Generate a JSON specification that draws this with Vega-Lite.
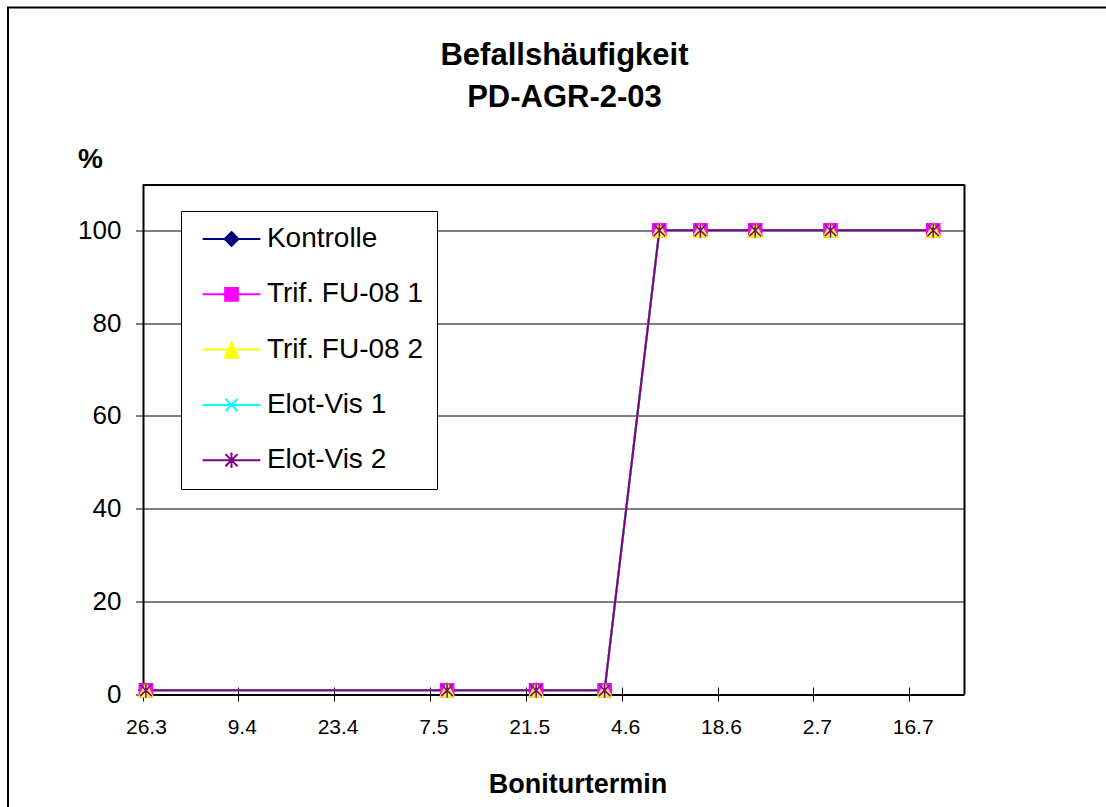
{
  "$schema": "https://vega.github.io/schema/vega-lite/v6.json",
  "autosize": {"type": "none"},
  "padding": {"left": 8, "top": 7.5, "right": -1, "bottom": -1},
  "width": 1099,
  "height": 800.5,
  "background": "#ffffff",
  "config": {
    "font": "Liberation Sans",
    "view": {"stroke": "#000000", "strokeWidth": 2},
    "axis": {"labelColor": "#000000", "titleColor": "#000000", "labelFont": "Liberation Sans", "titleFont": "Liberation Sans"}
  },
  "title": {
    "text": ["Befallshäufigkeit", "PD-AGR-2-03"],
    "fontSize": 31,
    "fontWeight": "bold",
    "font": "Liberation Sans",
    "color": "#000000",
    "anchor": "start",
    "frame": "group",
    "align": "center",
    "dx": 556.5,
    "dy": 106,
    "lineHeight": 42,
    "offset": 0
  },
  "data": {
    "values": [
      {"serie": "Kontrolle", "termin": "2003-03-26T12:00:00", "wert": 0.8},
      {"serie": "Kontrolle", "termin": "2003-05-09T12:00:00", "wert": 0.8},
      {"serie": "Kontrolle", "termin": "2003-05-22T12:00:00", "wert": 0.8},
      {"serie": "Kontrolle", "termin": "2003-06-01T12:00:00", "wert": 0.8},
      {"serie": "Kontrolle", "termin": "2003-06-09T12:00:00", "wert": 100},
      {"serie": "Kontrolle", "termin": "2003-06-15T12:00:00", "wert": 100},
      {"serie": "Kontrolle", "termin": "2003-06-23T12:00:00", "wert": 100},
      {"serie": "Kontrolle", "termin": "2003-07-04T12:00:00", "wert": 100},
      {"serie": "Kontrolle", "termin": "2003-07-19T12:00:00", "wert": 100},
      {"serie": "Trif. FU-08 1", "termin": "2003-03-26T12:00:00", "wert": 0.8},
      {"serie": "Trif. FU-08 1", "termin": "2003-05-09T12:00:00", "wert": 0.8},
      {"serie": "Trif. FU-08 1", "termin": "2003-05-22T12:00:00", "wert": 0.8},
      {"serie": "Trif. FU-08 1", "termin": "2003-06-01T12:00:00", "wert": 0.8},
      {"serie": "Trif. FU-08 1", "termin": "2003-06-09T12:00:00", "wert": 100},
      {"serie": "Trif. FU-08 1", "termin": "2003-06-15T12:00:00", "wert": 100},
      {"serie": "Trif. FU-08 1", "termin": "2003-06-23T12:00:00", "wert": 100},
      {"serie": "Trif. FU-08 1", "termin": "2003-07-04T12:00:00", "wert": 100},
      {"serie": "Trif. FU-08 1", "termin": "2003-07-19T12:00:00", "wert": 100},
      {"serie": "Trif. FU-08 2", "termin": "2003-03-26T12:00:00", "wert": 0.8},
      {"serie": "Trif. FU-08 2", "termin": "2003-05-09T12:00:00", "wert": 0.8},
      {"serie": "Trif. FU-08 2", "termin": "2003-05-22T12:00:00", "wert": 0.8},
      {"serie": "Trif. FU-08 2", "termin": "2003-06-01T12:00:00", "wert": 0.8},
      {"serie": "Trif. FU-08 2", "termin": "2003-06-09T12:00:00", "wert": 100},
      {"serie": "Trif. FU-08 2", "termin": "2003-06-15T12:00:00", "wert": 100},
      {"serie": "Trif. FU-08 2", "termin": "2003-06-23T12:00:00", "wert": 100},
      {"serie": "Trif. FU-08 2", "termin": "2003-07-04T12:00:00", "wert": 100},
      {"serie": "Trif. FU-08 2", "termin": "2003-07-19T12:00:00", "wert": 100},
      {"serie": "Elot-Vis 1", "termin": "2003-03-26T12:00:00", "wert": 0.8},
      {"serie": "Elot-Vis 1", "termin": "2003-05-09T12:00:00", "wert": 0.8},
      {"serie": "Elot-Vis 1", "termin": "2003-05-22T12:00:00", "wert": 0.8},
      {"serie": "Elot-Vis 1", "termin": "2003-06-01T12:00:00", "wert": 0.8},
      {"serie": "Elot-Vis 1", "termin": "2003-06-09T12:00:00", "wert": 100},
      {"serie": "Elot-Vis 1", "termin": "2003-06-15T12:00:00", "wert": 100},
      {"serie": "Elot-Vis 1", "termin": "2003-06-23T12:00:00", "wert": 100},
      {"serie": "Elot-Vis 1", "termin": "2003-07-04T12:00:00", "wert": 100},
      {"serie": "Elot-Vis 1", "termin": "2003-07-19T12:00:00", "wert": 100},
      {"serie": "Elot-Vis 2", "termin": "2003-03-26T12:00:00", "wert": 0.8},
      {"serie": "Elot-Vis 2", "termin": "2003-05-09T12:00:00", "wert": 0.8},
      {"serie": "Elot-Vis 2", "termin": "2003-05-22T12:00:00", "wert": 0.8},
      {"serie": "Elot-Vis 2", "termin": "2003-06-01T12:00:00", "wert": 0.8},
      {"serie": "Elot-Vis 2", "termin": "2003-06-09T12:00:00", "wert": 100},
      {"serie": "Elot-Vis 2", "termin": "2003-06-15T12:00:00", "wert": 100},
      {"serie": "Elot-Vis 2", "termin": "2003-06-23T12:00:00", "wert": 100},
      {"serie": "Elot-Vis 2", "termin": "2003-07-04T12:00:00", "wert": 100},
      {"serie": "Elot-Vis 2", "termin": "2003-07-19T12:00:00", "wert": 100}
    ]
  },
  "encoding": {
    "x": {
      "field": "termin",
      "type": "temporal",
      "scale": {
        "domain": [{"year": 2003, "month": 3, "date": 26}, {"year": 2003, "month": 7, "date": 24}],
        "range": [134.5, 956],
        "nice": false
      },
      "axis": {
        "orient": "top",
        "values": [
          {"year": 2003, "month": 3, "date": 26},
          {"year": 2003, "month": 4, "date": 9},
          {"year": 2003, "month": 4, "date": 23},
          {"year": 2003, "month": 5, "date": 7},
          {"year": 2003, "month": 5, "date": 21},
          {"year": 2003, "month": 6, "date": 4},
          {"year": 2003, "month": 6, "date": 18},
          {"year": 2003, "month": 7, "date": 2},
          {"year": 2003, "month": 7, "date": 16},
          {"year": 2003, "month": 7, "date": 24}
        ],
        "format": "%-d.%-m",
        "labelExpr": "datum.value > datetime(2003, 6, 20) ? '' : datum.label",
        "offset": -679.5,
        "tickSize": -14,
        "tickColor": "#000000",
        "tickOpacity": {"condition": {"test": "datum.value > datetime(2003, 6, 20)", "value": 0}, "value": 1},
        "labelFontSize": 21,
        "labelPadding": -32.3,
        "labelBaseline": "alphabetic",
        "labelOffset": 3.4,
        "labelFlush": false,
        "labelOverlap": false,
        "labelAngle": 0,
        "domain": false,
        "grid": true,
        "gridColor": "#000000",
        "gridWidth": 2,
        "gridOpacity": {"condition": {"test": "datum.value < datetime(2003, 3, 1) || datum.value > datetime(2003, 6, 20)", "value": 1}, "value": 0},
        "title": "Boniturtermin",
        "titleFontSize": 27,
        "titleFontWeight": "bold",
        "titleX": 569.5,
        "titleY": 105.7,
        "titleAlign": "center",
        "titleBaseline": "alphabetic"
      }
    },
    "y": {
      "field": "wert",
      "type": "quantitative",
      "scale": {"domain": [0, 110], "nice": false, "range": [686.5, 176.5]},
      "axis": {
        "values": [0, 20, 40, 60, 80, 100, 110],
        "labelExpr": "datum.value > 105 ? '' : datum.label",
        "offset": -134.5,
        "grid": true,
        "gridColor": "#000000",
        "gridWidth": {"condition": {"test": "datum.value == 0 || datum.value > 105", "value": 2}, "value": 1},
        "tickSize": 7,
        "tickColor": "#000000",
        "tickOpacity": {"condition": {"test": "datum.value > 105", "value": 0}, "value": 1},
        "labelFontSize": 26,
        "labelPadding": 14.5,
        "domain": false,
        "title": "%",
        "titleAngle": 0,
        "titleX": -52.5,
        "titleY": 151.5,
        "titleAlign": "center",
        "titleBaseline": "middle",
        "titleFontSize": 28,
        "titleFontWeight": "bold"
      }
    }
  },
  "layer": [
    {
      "mark": {"type": "line", "strokeWidth": 2},
      "encoding": {
        "color": {
          "field": "serie",
          "type": "nominal",
          "scale": {
            "domain": ["Kontrolle", "Trif. FU-08 1", "Trif. FU-08 2", "Elot-Vis 1", "Elot-Vis 2"],
            "range": ["#000080", "#FF00FF", "#FFFF00", "#00FFFF", "#800080"]
          },
          "legend": null
        }
      }
    },
    {
      "mark": {"type": "point", "filled": true, "opacity": 1, "size": 240, "strokeWidth": 1.5},
      "encoding": {
        "fill": {
          "field": "serie",
          "type": "nominal",
          "scale": {
            "domain": ["Kontrolle", "Trif. FU-08 1", "Trif. FU-08 2", "Elot-Vis 1", "Elot-Vis 2"],
            "range": ["#000080", "#FF00FF", "#FFFF00", "#00FFFF", "#800080"]
          },
          "legend": null
        },
        "stroke": {
          "field": "serie",
          "type": "nominal",
          "scale": {
            "domain": ["Kontrolle", "Trif. FU-08 1", "Trif. FU-08 2", "Elot-Vis 1", "Elot-Vis 2"],
            "range": ["#000080", "#FF00FF", "#FFFF00", "#00FFFF", "#800080"]
          },
          "legend": null
        },
        "shape": {
          "field": "serie",
          "type": "nominal",
          "scale": {
            "domain": ["Kontrolle", "Trif. FU-08 1", "Trif. FU-08 2", "Elot-Vis 1", "Elot-Vis 2"],
            "range": [
              "M0,-0.9L0.9,0L0,0.9L-0.9,0Z",
              "M-0.85,-0.85H0.85V0.85H-0.85Z",
              "M0,-0.85L0.9,0.85H-0.9Z",
              "M-0.75,-0.75L0.75,0.75M-0.75,0.75L0.75,-0.75",
              "M-0.75,-0.75L0.75,0.75M-0.75,0.75L0.75,-0.75M0,-0.9V0.9"
            ]
          },
          "legend": null
        }
      }
    },
    {
      "transform": [{"filter": "datum.wert < 0"}],
      "mark": {"type": "point", "filled": true, "opacity": 1, "size": 3329, "strokeWidth": 2},
      "encoding": {
        "fill": {
          "field": "serie",
          "type": "nominal",
          "scale": {
            "domain": ["Kontrolle", "Trif. FU-08 1", "Trif. FU-08 2", "Elot-Vis 1", "Elot-Vis 2"],
            "range": ["#000080", "#FF00FF", "#FFFF00", "#00FFFF", "#800080"]
          },
          "legend": {
            "title": null, "orient": "none", "legendX": 173, "legendY": 203.5, "padding": 14,
            "strokeColor": "#000000", "fillColor": "#ffffff",
            "symbolSize": 3329, "symbolStrokeWidth": 2, "symbolOffset": 6.5,
            "labelOffset": 5.4, "labelFontSize": 28, "labelFont": "Liberation Sans", "labelColor": "#000000",
            "labelLimit": 400, "clipHeight": 28, "rowPadding": 27.3
          }
        },
        "stroke": {
          "field": "serie",
          "type": "nominal",
          "scale": {
            "domain": ["Kontrolle", "Trif. FU-08 1", "Trif. FU-08 2", "Elot-Vis 1", "Elot-Vis 2"],
            "range": ["#000080", "#FF00FF", "#FFFF00", "#00FFFF", "#800080"]
          },
          "legend": {
            "title": null, "orient": "none", "legendX": 173, "legendY": 203.5, "padding": 14,
            "strokeColor": "#000000", "fillColor": "#ffffff",
            "symbolSize": 3329, "symbolStrokeWidth": 2, "symbolOffset": 6.5,
            "labelOffset": 5.4, "labelFontSize": 28, "labelFont": "Liberation Sans", "labelColor": "#000000",
            "labelLimit": 400, "clipHeight": 28, "rowPadding": 27.3
          }
        },
        "shape": {
          "field": "serie",
          "type": "nominal",
          "scale": {
            "domain": ["Kontrolle", "Trif. FU-08 1", "Trif. FU-08 2", "Elot-Vis 1", "Elot-Vis 2"],
            "range": [
              "M-1,0H1M0,-0.24L0.24,0L0,0.24L-0.24,0Z",
              "M-1,0H1M-0.22,-0.22H0.22V0.22H-0.22Z",
              "M-1,0H1M0,-0.25L0.23,0.28H-0.23Z",
              "M-1,0H1M-0.21,-0.21L0.21,0.21M-0.21,0.21L0.21,-0.21",
              "M-1,0H1M-0.21,-0.21L0.21,0.21M-0.21,0.21L0.21,-0.21M0,-0.27V0.27"
            ]
          },
          "legend": {
            "title": null, "orient": "none", "legendX": 173, "legendY": 203.5, "padding": 14,
            "strokeColor": "#000000", "fillColor": "#ffffff",
            "symbolSize": 3329, "symbolStrokeWidth": 2, "symbolOffset": 6.5,
            "labelOffset": 5.4, "labelFontSize": 28, "labelFont": "Liberation Sans", "labelColor": "#000000",
            "labelLimit": 400, "clipHeight": 28, "rowPadding": 27.3
          }
        }
      }
    }
  ],
  "resolve": {
    "scale": {"fill": "independent", "stroke": "independent", "shape": "independent"}
  }
}
